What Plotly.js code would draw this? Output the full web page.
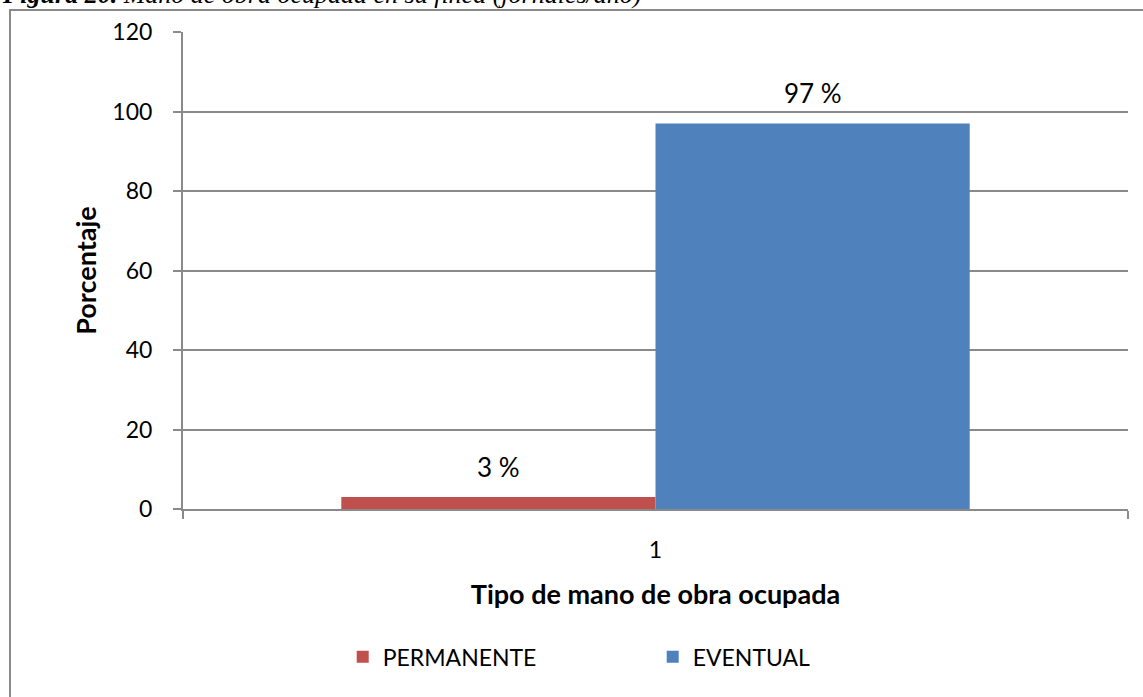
<!DOCTYPE html>
<html><head><meta charset="utf-8">
<script src="https://cdn.plot.ly/plotly-3.0.1.min.js"></script>
<style>
html,body{margin:0;padding:0;background:#fff;overflow:hidden;}
#frame{position:absolute;left:9px;top:9px;width:1150px;height:700px;border:2px solid #8a8a8a;box-sizing:border-box;}
#chart{position:absolute;left:0;top:0;width:1143px;height:697px;}
</style></head>
<body>
<div id="frame"></div>
<div id="chart"></div>
<script>
const categories = ['1'];
const seriesNames = ['PERMANENTE', 'EVENTUAL'];
const permanente = [3];
const eventual = [97];
const labelsPermanente = ['3 %'];
const labelsEventual = ['97 %'];
const colors = ['#C0504D', '#4F81BD'];

const font = 'Lato, "Open Sans", sans-serif';

const traces = [
  {type:'bar', name:seriesNames[0], x:categories, y:permanente, offsetgroup:'a',
   marker:{color:colors[0]}, hoverinfo:'skip'},
  {type:'bar', name:seriesNames[1], x:categories, y:eventual, offsetgroup:'b',
   marker:{color:colors[1]}, hoverinfo:'skip'}
];

const bargap = 0.335;
const halfGroup = (1 - bargap) / 4;
const labelAnnotations = [];
[[permanente, labelsPermanente, -halfGroup], [eventual, labelsEventual, halfGroup]].forEach(([vals, labs, off]) => {
  vals.forEach((v, i) => {
    labelAnnotations.push({xref:'x', yref:'y', x:i + off, y:v, text:labs[i], showarrow:false,
      yanchor:'middle', yshift:30, font:{family:font, size:26, color:'#000'}});
  });
});

const layout = {
  width:1143, height:697,
  margin:{l:183, r:15, t:32, b:188},
  paper_bgcolor:'rgba(0,0,0,0)', plot_bgcolor:'rgba(0,0,0,0)',
  barmode:'group', bargap:bargap, bargroupgap:0,
  font:{family:font, size:22, color:'#000'},
  xaxis:{type:'category', tickson:'boundaries', ticks:'outside', ticklen:8, tickwidth:2, tickcolor:'#8a8a8a',
    showgrid:false, showline:true, linecolor:'#8a8a8a', linewidth:2, ticklabelstandoff:19,
    tickfont:{family:font, size:23},
    title:{text:'<b>Tipo de mano de obra ocupada</b>', font:{family:font, size:27}, standoff:24}},
  yaxis:{range:[0,120], dtick:20, ticks:'outside', ticklen:8, tickwidth:2, tickcolor:'#8a8a8a',
    showgrid:true, gridcolor:'#8a8a8a', gridwidth:2, showline:true, linecolor:'#8a8a8a', linewidth:2,
    zeroline:false, tickfont:{family:font, size:23}, ticklabelstandoff:16,
    title:{text:'<b>Porcentaje</b>', font:{family:font, size:27}, standoff:8}},
  showlegend:true,
  legend:{orientation:'h', x:0.169, xanchor:'left', y:-0.31, yanchor:'middle',
    entrywidth:265, entrywidthmode:'pixels', font:{family:font, size:23}, itemwidth:30, traceorder:'normal'},
  annotations:[{xref:'paper', yref:'paper', x:-0.1937, xanchor:'left', y:1.044, yanchor:'bottom',
    text:'<b><i>Figura 20.</i></b><i> Mano de obra ocupada en su finca (jornales/año)</i>',
    showarrow:false, font:{family:'"Liberation Serif", "DejaVu Serif", serif', size:26, color:'#000'}}]
    .concat(labelAnnotations)
};

Plotly.newPlot('chart', traces, layout, {displayModeBar:false, staticPlot:true});
</script>
</body></html>
